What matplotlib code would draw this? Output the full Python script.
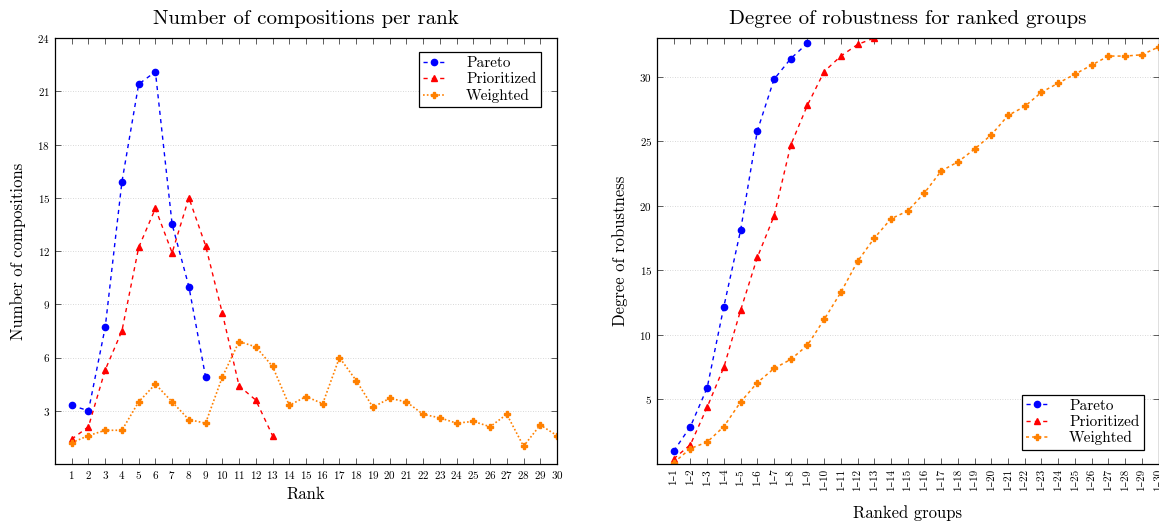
import matplotlib
matplotlib.use('Agg')
from matplotlib import pyplot as plt

plt.rcParams['font.family'] = ['cmr10', 'DejaVu Serif']
plt.rcParams['mathtext.fontset'] = 'cm'
plt.rcParams['axes.formatter.use_mathtext'] = True

# ---- left chart: number of compositions per rank
rank = list(range(1, 31))
pareto_cnt = [3.3, 3.0, 7.7, 15.9, 21.4, 22.1, 13.5, 10.0, 4.9]
prior_cnt = [1.4, 2.1, 5.3, 7.5, 12.2, 14.4, 11.9, 15.0, 12.3, 8.5, 4.4, 3.6, 1.6]
weight_cnt = [1.2, 1.6, 1.9, 1.9, 3.5, 4.5, 3.5, 2.5, 2.3, 4.9, 6.9, 6.6, 5.5, 3.3, 3.8,
              3.4, 6.0, 4.7, 3.2, 3.7, 3.5, 2.8, 2.6, 2.3, 2.4, 2.1, 2.8, 1.0, 2.2, 1.6]

# ---- right chart: degree of robustness for ranked groups
groups = ['1\u2013%d' % i for i in range(1, 31)]
pareto_rob = [1.0, 2.9, 5.9, 12.2, 18.1, 25.8, 29.8, 31.4, 32.6]
prior_rob = [0.4, 1.5, 4.4, 7.5, 11.9, 16.0, 19.2, 24.7, 27.8, 30.4, 31.6, 32.5, 33.0]
weight_rob = [0.1, 1.2, 1.7, 2.9, 4.8, 6.3, 7.4, 8.1, 9.2, 11.2, 13.3, 15.7, 17.5, 19.0, 19.6,
              21.0, 22.7, 23.4, 24.4, 25.5, 27.0, 27.7, 28.8, 29.5, 30.2, 30.9, 31.6, 31.6, 31.7, 32.3]

BLUE = (0, 0, 1)
RED = (1, 0, 0)
ORANGE = (1, 0.5, 0)

fig = plt.figure(figsize=(11.59, 5.24), dpi=100)
ax1 = fig.add_axes([55/1159, 60/524, 502/1159, 426/524])
ax2 = fig.add_axes([657/1159, 60/524, 501.5/1159, 426/524])


def style_axes(ax):
    ax.tick_params(direction='in', top=True, right=True, length=4, width=0.6,
                   labelsize=8, color='#444444')
    for s in ax.spines.values():
        s.set_linewidth(0.9)
    ax.grid(axis='y', linestyle=(0, (1, 2)), color='#cccccc', linewidth=0.6)
    ax.set_axisbelow(True)


def add_legend(ax, loc, anchor):
    leg = ax.legend(loc=loc, bbox_to_anchor=anchor, borderaxespad=0, fontsize=11,
                    fancybox=False, edgecolor='black', framealpha=1,
                    handlelength=1.4, borderpad=0.3, labelspacing=0.15,
                    handletextpad=1.4)
    leg.get_frame().set_linewidth(0.9)


#--------------------------------------------------
ax1.plot(rank[:len(pareto_cnt)], pareto_cnt, linestyle=(0, (3, 3)), color=BLUE, lw=1,
         marker='o', ms=4.5, label='Pareto')
ax1.plot(rank[:len(prior_cnt)], prior_cnt, linestyle=(0, (3, 3)), color=RED, lw=1,
         marker='^', ms=5, label='Prioritized')
ax1.plot(rank, weight_cnt, linestyle=(0, (1, 1.3)), color=ORANGE, lw=1.2,
         marker='P', ms=5, label='Weighted')
ax1.set_xlim(0, 30)
ax1.set_ylim(0, 24)
ax1.set_xticks(rank)
ax1.set_yticks(range(3, 25, 3))
style_axes(ax1)
ax1.set_title('Number of compositions per rank', fontsize=15, pad=10)
ax1.set_xlabel('Rank', fontsize=12, labelpad=4)
ax1.set_ylabel('Number of compositions', fontsize=12, labelpad=8)
add_legend(ax1, 'upper right', (0.968, 0.967))

#--------------------------------------------------
xg = list(range(1, 31))
ax2.plot(xg[:len(pareto_rob)], pareto_rob, linestyle=(0, (3, 3)), color=BLUE, lw=1,
         marker='o', ms=4.5, label='Pareto')
ax2.plot(xg[:len(prior_rob)], prior_rob, linestyle=(0, (3, 3)), color=RED, lw=1,
         marker='^', ms=5, label='Prioritized')
ax2.plot(xg, weight_rob, linestyle=(0, (2, 2)), color=ORANGE, lw=1.1,
         marker='P', ms=5, label='Weighted')
ax2.set_xlim(0, 30)
ax2.set_ylim(0, 33)
ax2.set_xticks(xg)
ax2.set_xticklabels(groups, rotation=90)
ax2.set_yticks(range(5, 31, 5))
style_axes(ax2)
ax2.set_title('Degree of robustness for ranked groups', fontsize=15, pad=10)
ax2.set_xlabel('Ranked groups', fontsize=12, labelpad=10)
ax2.set_ylabel('Degree of robustness', fontsize=12, labelpad=8)
add_legend(ax2, 'lower right', (0.971, 0.033))

fig.savefig('out.png', dpi=100)
